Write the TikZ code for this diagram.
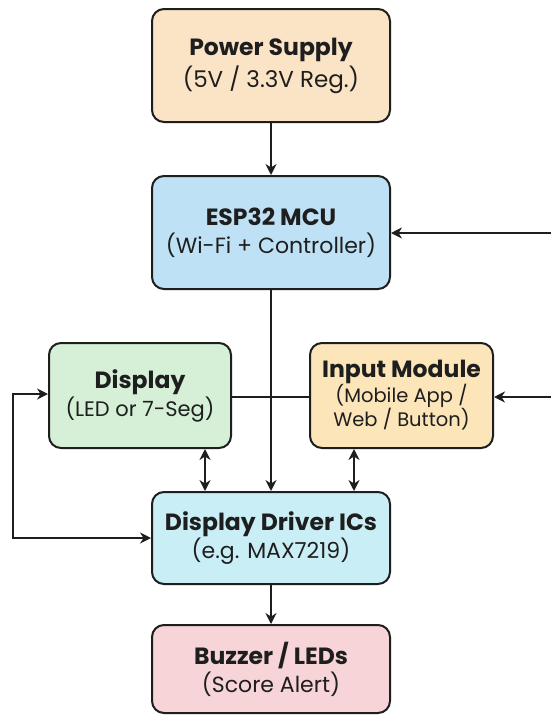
\documentclass[tikz,border=0pt]{standalone}
\usepackage{fontspec}
\setmainfont{Poppins}
\usetikzlibrary{arrows.meta}
\definecolor{psfill}{HTML}{FBE3C6}
\definecolor{espfill}{HTML}{BFE1F5}
\definecolor{dispfill}{HTML}{D5F0D6}
\definecolor{inpfill}{HTML}{FBE5B9}
\definecolor{drvfill}{HTML}{C9EEF5}
\definecolor{buzfill}{HTML}{F6D4D7}
\definecolor{ink}{HTML}{1E1E1E}
\tikzset{
  block/.style={draw=ink, line width=2pt, rounded corners=12pt, align=center, text=ink, inner sep=2pt, font=\fontsize{22}{24}\selectfont},
  conn/.style={draw=ink, line width=2pt},
  arr/.style={conn, -{Stealth[length=11pt,width=11pt]}},
  darr/.style={conn, {Stealth[length=11pt,width=11pt]}-{Stealth[length=11pt,width=11pt]}}
}
\newcommand{\titl}[1]{{\fontsize{23.5}{24}\selectfont\bfseries #1}}
\newcommand{\subl}[2]{{\fontsize{#1}{24}\selectfont #2}}
\begin{document}
\begin{tikzpicture}[x=1pt,y=-1pt]
\useasboundingbox (0,0) rectangle (551,715);
\fill[white] (0,0) rectangle (551,715);
\node[block, fill=psfill, minimum width=238pt, minimum height=113pt] (ps) at (271,65.5) {\titl{Power Supply}\\[3pt]\subl{23}{(5V / 3.3V Reg.)}};
\node[block, fill=espfill, minimum width=238pt, minimum height=113pt] (esp) at (271,232.5) {\titl{ESP32 MCU}\\[4pt]\subl{22}{(Wi-Fi + Controller)}};
\node[block, fill=dispfill, minimum width=182pt, minimum height=105pt] (disp) at (140,395.5) {\titl{Display}\\[1pt]\subl{21}{(LED or 7-Seg)}};
\node[block, fill=inpfill, minimum width=183pt, minimum height=105pt, font=\fontsize{19.5}{20.5}\selectfont] (inp) at (401.5,395.5) {\titl{Input Module}\\[-1pt]\subl{19.5}{(Mobile App /}\\\subl{19.5}{Web / Button)}};
\node[block, fill=drvfill, minimum width=238pt, minimum height=92pt] (drv) at (271,538) {\titl{Display Driver ICs}\\[0pt]\subl{22}{(e.g. MAX7219)}};
\node[block, fill=buzfill, minimum width=238pt, minimum height=88pt] (buz) at (271,669) {\titl{Buzzer / LEDs}\\[2pt]\subl{22}{(Score Alert)}};
\coordinate (wifi) at (551,233);
\coordinate (inin) at (551,397);
\draw[arr] (ps) -- (esp);
\draw[arr] (wifi) -- (wifi -| esp.east);
\draw[arr] (esp) -- (drv);
\draw[conn] ([yshift=-1.5pt]disp.east) -- ([yshift=-1.5pt]disp.east -| inp.west);
\draw[arr] (inin) -- (inin -| inp.east);
\draw[darr] ([yshift=1.5pt]disp.west) -- ++(-35,0) |- (drv.west);
\draw[darr] ([xshift=65pt]disp.south) -- ([xshift=65pt]disp.south |- drv.north);
\draw[darr] ([xshift=-47.5pt]inp.south) -- ([xshift=-47.5pt]inp.south |- drv.north);
\draw[arr] (drv) -- (buz);
\end{tikzpicture}
\end{document}
